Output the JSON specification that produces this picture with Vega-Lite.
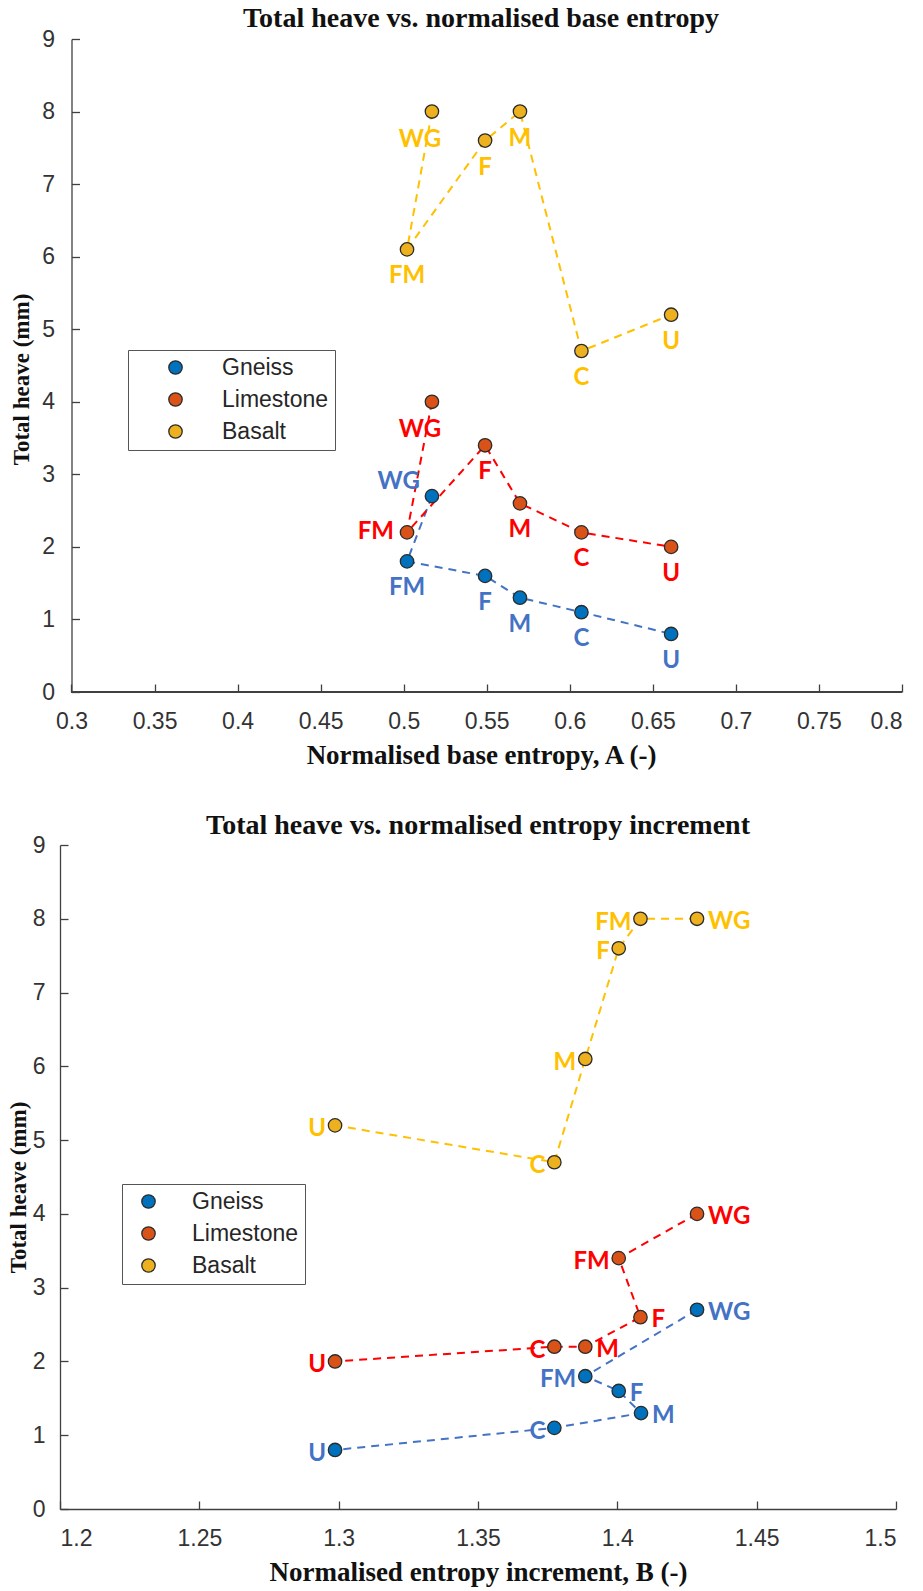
{
  "$schema": "https://vega.github.io/schema/vega-lite/v6.json",
  "padding": {"top": 5, "left": 7, "right": 5, "bottom": 5},
  "background": "white",
  "datasets": {
    "entropyA": [
      {"material": "Gneiss", "label": "WG", "seq": 1, "x": 0.517, "heave": 2.7},
      {"material": "Gneiss", "label": "FM", "seq": 2, "x": 0.502, "heave": 1.8},
      {"material": "Gneiss", "label": "F", "seq": 3, "x": 0.549, "heave": 1.6},
      {"material": "Gneiss", "label": "M", "seq": 4, "x": 0.570, "heave": 1.3},
      {"material": "Gneiss", "label": "C", "seq": 5, "x": 0.607, "heave": 1.1},
      {"material": "Gneiss", "label": "U", "seq": 6, "x": 0.661, "heave": 0.8},
      {"material": "Limestone", "label": "WG", "seq": 1, "x": 0.517, "heave": 4.0},
      {"material": "Limestone", "label": "FM", "seq": 2, "x": 0.502, "heave": 2.2},
      {"material": "Limestone", "label": "F", "seq": 3, "x": 0.549, "heave": 3.4},
      {"material": "Limestone", "label": "M", "seq": 4, "x": 0.570, "heave": 2.6},
      {"material": "Limestone", "label": "C", "seq": 5, "x": 0.607, "heave": 2.2},
      {"material": "Limestone", "label": "U", "seq": 6, "x": 0.661, "heave": 2.0},
      {"material": "Basalt", "label": "WG", "seq": 1, "x": 0.517, "heave": 8.0},
      {"material": "Basalt", "label": "FM", "seq": 2, "x": 0.502, "heave": 6.1},
      {"material": "Basalt", "label": "F", "seq": 3, "x": 0.549, "heave": 7.6},
      {"material": "Basalt", "label": "M", "seq": 4, "x": 0.570, "heave": 8.0},
      {"material": "Basalt", "label": "C", "seq": 5, "x": 0.607, "heave": 4.7},
      {"material": "Basalt", "label": "U", "seq": 6, "x": 0.661, "heave": 5.2}
    ],
    "incrementB": [
      {"material": "Gneiss", "label": "WG", "seq": 1, "x": 1.4286, "heave": 2.7},
      {"material": "Gneiss", "label": "FM", "seq": 2, "x": 1.3885, "heave": 1.8},
      {"material": "Gneiss", "label": "F", "seq": 3, "x": 1.4005, "heave": 1.6},
      {"material": "Gneiss", "label": "M", "seq": 4, "x": 1.4085, "heave": 1.3},
      {"material": "Gneiss", "label": "C", "seq": 5, "x": 1.3774, "heave": 1.1},
      {"material": "Gneiss", "label": "U", "seq": 6, "x": 1.2987, "heave": 0.8},
      {"material": "Limestone", "label": "WG", "seq": 1, "x": 1.4286, "heave": 4.0},
      {"material": "Limestone", "label": "FM", "seq": 2, "x": 1.4005, "heave": 3.4},
      {"material": "Limestone", "label": "F", "seq": 3, "x": 1.4083, "heave": 2.6},
      {"material": "Limestone", "label": "M", "seq": 4, "x": 1.3885, "heave": 2.2},
      {"material": "Limestone", "label": "C", "seq": 5, "x": 1.3774, "heave": 2.2},
      {"material": "Limestone", "label": "U", "seq": 6, "x": 1.2987, "heave": 2.0},
      {"material": "Basalt", "label": "WG", "seq": 1, "x": 1.4286, "heave": 8.0},
      {"material": "Basalt", "label": "FM", "seq": 2, "x": 1.4083, "heave": 8.0},
      {"material": "Basalt", "label": "F", "seq": 3, "x": 1.4005, "heave": 7.6},
      {"material": "Basalt", "label": "M", "seq": 4, "x": 1.3885, "heave": 6.1},
      {"material": "Basalt", "label": "C", "seq": 5, "x": 1.3774, "heave": 4.7},
      {"material": "Basalt", "label": "U", "seq": 6, "x": 1.2987, "heave": 5.2}
    ]
  },
  "config": {
    "view": {"stroke": null},
    "axis": {
      "grid": false,
      "domainColor": "#404040",
      "domainWidth": 1.3,
      "tickColor": "#404040",
      "tickWidth": 1.3,
      "tickSize": -8,
      "labelFont": "Liberation Sans",
      "labelFontSize": 23,
      "labelColor": "#333333",
      "titleFont": "Liberation Serif",
      "titleFontWeight": "bold",
      "titleColor": "#111111"
    },
    "legend": {
      "labelFont": "Liberation Sans",
      "labelFontSize": 23,
      "labelColor": "#262626",
      "strokeColor": "#555555",
      "fillColor": "white",
      "padding": 6,
      "symbolSize": 180,
      "symbolType": "circle",
      "symbolStrokeColor": "#2b2b2b",
      "symbolStrokeWidth": 1.3,
      "symbolOpacity": 1,
      "rowPadding": 8
    },
    "title": {
      "font": "Liberation Serif",
      "fontSize": 28,
      "fontWeight": "bold",
      "color": "#111111",
      "anchor": "middle",
      "baseline": "alphabetic"
    },
    "text": {"font": "Lato", "fontWeight": "bold", "fontSize": 24}
  },
  "spacing": 44,
  "resolve": {
    "scale": {"color": "independent", "fill": "independent", "stroke": "independent"},
    "legend": {"color": "independent"}
  },
  "vconcat": [
    {
      "title": {"text": "Total heave vs. normalised base entropy", "offset": -5},
      "width": 842,
      "height": 653,
      "data": {"name": "entropyA"},
      "encoding": {
        "x": {"field": "x", "type": "quantitative", "scale": {"domain": [0.29308, 0.8], "nice": false, "zero": false},
          "axis": {"title": "Normalised base entropy, A (-)", "domain": false, "values": [0.3, 0.35, 0.4, 0.45, 0.5, 0.55, 0.6, 0.65, 0.7, 0.75, 0.8], "format": ".2~f", "labelPadding": 26, "titlePadding": 9, "titleFontSize": 27}},
        "y": {"field": "heave", "type": "quantitative", "scale": {"domain": [0, 9], "nice": false},
          "axis": {"title": "Total heave (mm)", "offset": -11.5, "values": [0, 1, 2, 3, 4, 5, 6, 7, 8, 9], "format": "d", "labelPadding": 25, "titlePadding": 8, "titleFontSize": 23, "titleY": 340}}
      },
      "layer": [
        {
          "mark": {"type": "rule", "color": "#404040", "strokeWidth": 1.3},
          "encoding": {"x": {"datum": 0.3}, "x2": {"datum": 0.8}, "y": {"datum": 0}}
        },
        {
          "mark": {"type": "line", "strokeDash": [8, 6], "strokeWidth": 2},
          "encoding": {
            "stroke": {"field": "material", "type": "nominal", "scale": {"domain": ["Basalt", "Gneiss", "Limestone"], "range": ["#FFC000", "#4472C4", "#FF0000"]}, "legend": null},
            "order": {"field": "seq", "type": "quantitative"}
          }
        },
        {
          "mark": {"type": "circle", "size": 180, "opacity": 1, "stroke": "#2b2b2b", "strokeWidth": 1.3},
          "encoding": {
            "color": {"field": "material", "type": "nominal", "scale": {"domain": ["Gneiss", "Limestone", "Basalt"], "range": ["#0072BD", "#D95319", "#EDB120"]},
              "legend": {"orient": "none", "legendX": 68, "legendY": 311, "title": null, "symbolOffset": 30, "labelOffset": 35}}
          }
        },
        {
          "transform": [{"filter": "datum.label != 'WG' && !(datum.label == 'FM' && datum.material == 'Limestone')"}],
          "mark": {"type": "text", "align": "center", "baseline": "middle", "dy": 27},
          "encoding": {
            "text": {"field": "label"},
            "fill": {"field": "material", "type": "nominal", "scale": {"domain": ["Limestone", "Basalt", "Gneiss"], "range": ["#FF0000", "#FFC000", "#4472C4"]}, "legend": null}
          }
        },
        {
          "transform": [{"filter": "datum.label == 'WG' && datum.material != 'Gneiss'"}],
          "mark": {"type": "text", "align": "center", "baseline": "middle", "dy": 28, "dx": -12},
          "encoding": {
            "text": {"field": "label"},
            "fill": {"field": "material", "type": "nominal", "legend": null}
          }
        },
        {
          "transform": [{"filter": "datum.label == 'WG' && datum.material == 'Gneiss'"}],
          "mark": {"type": "text", "align": "right", "baseline": "middle", "dy": -14, "dx": -12},
          "encoding": {
            "text": {"field": "label"},
            "fill": {"field": "material", "type": "nominal", "legend": null}
          }
        },
        {
          "transform": [{"filter": "datum.label == 'FM' && datum.material == 'Limestone'"}],
          "mark": {"type": "text", "align": "right", "baseline": "middle", "dy": 0, "dx": -13},
          "encoding": {
            "text": {"field": "label"},
            "fill": {"field": "material", "type": "nominal", "legend": null}
          }
        }
      ]
    },
    {
      "title": {"text": "Total heave vs. normalised entropy increment", "offset": -6},
      "width": 836,
      "height": 664,
      "data": {"name": "incrementB"},
      "encoding": {
        "x": {"field": "x", "type": "quantitative", "scale": {"domain": [1.2, 1.5], "nice": false, "zero": false},
          "axis": {"title": "Normalised entropy increment, B (-)", "values": [1.2, 1.25, 1.3, 1.35, 1.4, 1.45, 1.5], "format": ".2~f", "labelPadding": 26, "titlePadding": 9, "titleFontSize": 27}},
        "y": {"field": "heave", "type": "quantitative", "scale": {"domain": [0, 9], "nice": false},
          "axis": {"title": "Total heave (mm)", "values": [0, 1, 2, 3, 4, 5, 6, 7, 8, 9], "format": "d", "labelPadding": 23, "titlePadding": 2, "titleFontSize": 23, "titleY": 342}}
      },
      "layer": [
        {
          "mark": {"type": "line", "strokeDash": [8, 6], "strokeWidth": 2},
          "encoding": {
            "stroke": {"field": "material", "type": "nominal", "scale": {"domain": ["Basalt", "Gneiss", "Limestone"], "range": ["#FFC000", "#4472C4", "#FF0000"]}, "legend": null},
            "order": {"field": "seq", "type": "quantitative"}
          }
        },
        {
          "mark": {"type": "circle", "size": 180, "opacity": 1, "stroke": "#2b2b2b", "strokeWidth": 1.3},
          "encoding": {
            "color": {"field": "material", "type": "nominal", "scale": {"domain": ["Gneiss", "Limestone", "Basalt"], "range": ["#0072BD", "#D95319", "#EDB120"]},
              "legend": {"orient": "none", "legendX": 62, "legendY": 339, "title": null, "symbolOffset": 9, "labelOffset": 32}}
          }
        },
        {
          "transform": [{"filter": "datum.label == 'WG' || (datum.material != 'Basalt' && (datum.label == 'F' || datum.label == 'M'))"}],
          "mark": {"type": "text", "align": "left", "baseline": "middle", "dx": 11, "dy": 3},
          "encoding": {
            "text": {"field": "label"},
            "fill": {"field": "material", "type": "nominal", "scale": {"domain": ["Limestone", "Basalt", "Gneiss"], "range": ["#FF0000", "#FFC000", "#4472C4"]}, "legend": null}
          }
        },
        {
          "transform": [{"filter": "!(datum.label == 'WG' || (datum.material != 'Basalt' && (datum.label == 'F' || datum.label == 'M')))"}],
          "mark": {"type": "text", "align": "right", "baseline": "middle", "dx": -9, "dy": 4},
          "encoding": {
            "text": {"field": "label"},
            "fill": {"field": "material", "type": "nominal", "legend": null}
          }
        }
      ]
    }
  ]
}
